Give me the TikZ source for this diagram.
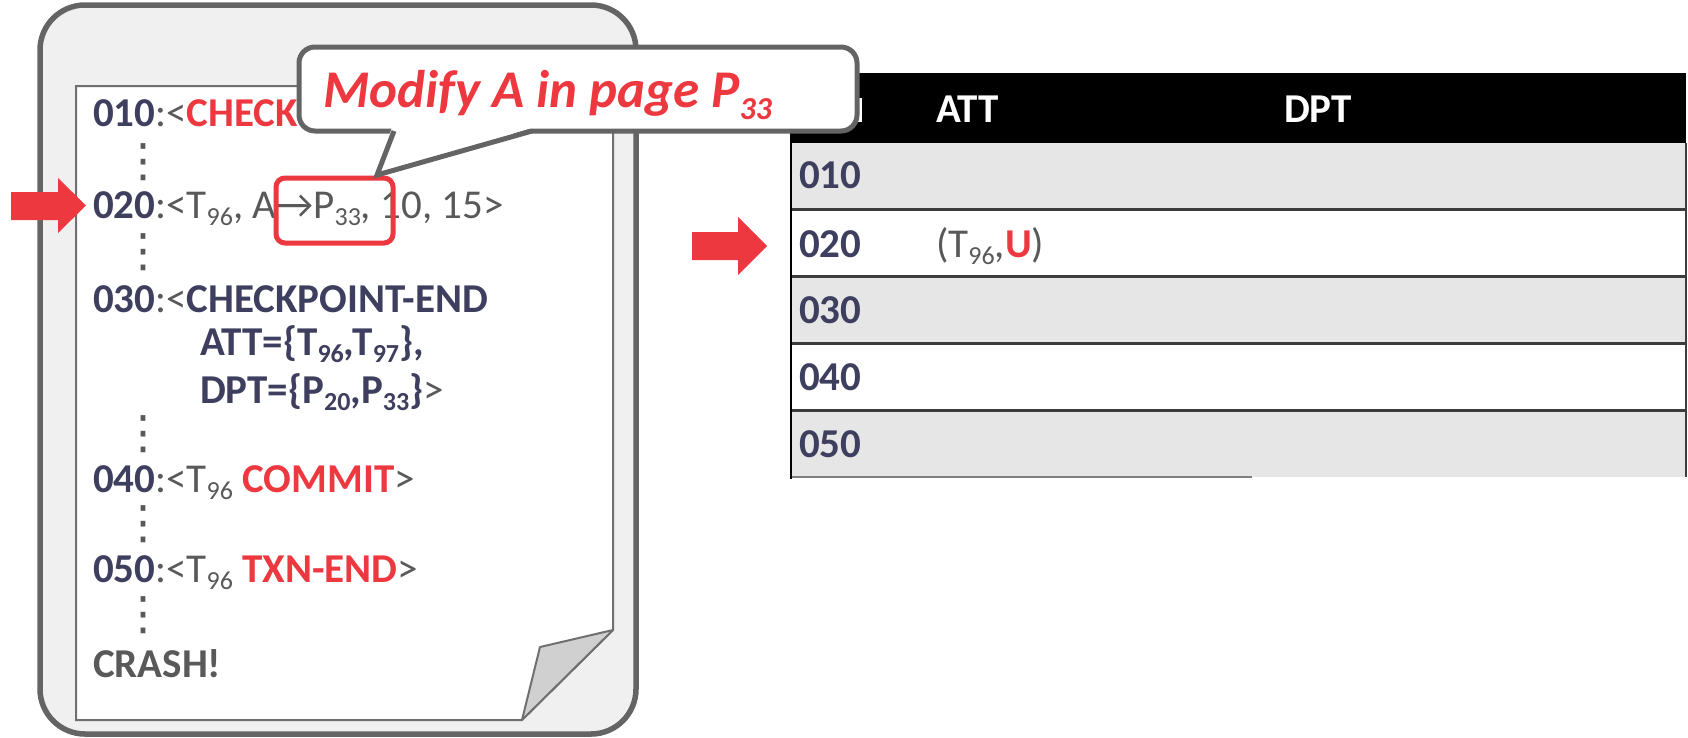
\documentclass[tikz,border=0pt]{standalone}
\usepackage{fontspec}
\setmainfont{Carlito}
\newfontfamily\dejavu{DejaVu Sans}
\definecolor{navy}{RGB}{62,62,94}
\definecolor{txtgray}{RGB}{89,89,89}
\definecolor{hot}{RGB}{237,56,64}
\definecolor{framegray}{RGB}{100,100,100}
\definecolor{pageline}{RGB}{112,112,112}
\definecolor{rowgray}{RGB}{230,230,230}
\definecolor{boxfill}{RGB}{240,240,240}
\definecolor{foldfill}{RGB}{208,208,208}
\definecolor{sepline}{RGB}{60,60,60}
\newcommand{\sbs}[1]{\raisebox{-0.18em}{\fontsize{26}{26}\selectfont #1}}
\newcommand{\bsbs}[1]{\raisebox{-0.24em}{\fontsize{32}{32}\selectfont #1}}
\begin{document}
\begin{tikzpicture}[x=1pt,y=-1pt,
  txt/.style={anchor=base west, inner sep=0pt, outer sep=0pt, text=txtgray, font=\fontsize{41}{49}\selectfont},
  dts/.style={inner sep=0pt, text=txtgray, font=\fontsize{46}{46}\selectfont\dejavu},
  hdr/.style={txt, text=white, font=\fontsize{41}{49}\selectfont\bfseries},
  rowlbl/.style={txt, text=navy, font=\fontsize{41}{49}\selectfont\bfseries},
  blockarrow/.style={fill=hot},
  sepstyle/.style={draw=sepline, line width=3},
]
\useasboundingbox (0,0) rectangle (1688,737);

% ---------- log file ----------
\draw[line width=5.5, draw=framegray, fill=boxfill, rounded corners=45] (40,5) rectangle (636,734);
\draw[line width=2, draw=pageline, fill=white] (76,86) -- (613,86) -- (613,630) -- (522,720) -- (76,720) -- cycle;
\draw[line width=2, draw=pageline, fill=foldfill, line join=round] (613,630) -- (540,647) -- (522,720) -- cycle;

\node[txt] (l010) at (93,126) {{\bfseries\color{navy}010}:<{\bfseries\color{hot}CHECK}};
\node[dts] (d1) at (143,162) {⋮};
\node[txt] (l020) at (93,218) {{\bfseries\color{navy}020}:<T\sbs{96}, A→P\sbs{33}, 10, 15>};
\node[dts] (d2) at (143,252) {⋮};
\node[txt] (l030) at (93,312) {{\bfseries\color{navy}030}:<{\bfseries\color{navy}CHECKPOINT-END}};
\node[txt] (latt) at (200,355) {{\bfseries\color{navy}ATT=\{T\sbs{96},T\sbs{97}\},}};
\node[txt] (ldpt) at (200,403) {{\bfseries\color{navy}DPT=\{P\sbs{20},P\sbs{33}\}}>};
\node[dts] (d3) at (143,434) {⋮};
\node[txt] (l040) at (93,492) {{\bfseries\color{navy}040}:<T\sbs{96} {\bfseries\color{hot}COMMIT}>};
\node[dts] (d4) at (143,524) {⋮};
\node[txt] (l050) at (93,582) {{\bfseries\color{navy}050}:<T\sbs{96} {\bfseries\color{hot}TXN-END}>};
\node[dts] (d5) at (143,615) {⋮};
\node[txt, font=\fontsize{41}{49}\selectfont\bfseries] (crash) at (93,677) {CRASH!};

\draw[draw=hot, line width=5, rounded corners=9] (276,178) rectangle (393,243);
\coordinate (hl) at (377,178);

\fill[blockarrow] (11,192) -- (58,192) -- (58,178) -- (86,205.5) -- (58,233) -- (58,220) -- (11,220) -- cycle;

% ---------- table ----------
\fill[black] (791,73) rectangle (1686,143);
\fill[rowgray] (791,143) rectangle (1686,209);
\fill[white] (791,209) rectangle (1686,276);
\fill[rowgray] (791,276) rectangle (1686,343);
\fill[white] (791,343) rectangle (1686,410);
\fill[rowgray] (791,410) rectangle (1686,477);
\draw[sepstyle] (791,209) -- (1686,209);
\draw[sepstyle] (791,276) -- (1686,276);
\draw[sepstyle] (791,343) -- (1686,343);
\draw[sepstyle] (791,410) -- (1686,410);
\draw[draw=gray, line width=2] (791,477) -- (1252,477);
\draw[black, line width=2.5] (791,73) -- (791,479);
\draw[draw=sepline, line width=1.5] (1686,143) -- (1686,477);

\node[hdr] (hatt) at (936,122) {ATT};
\node[hdr] (hdpt) at (1284,122) {DPT};
\node[rowlbl] (r010) at (799,188) {010};
\node[rowlbl] (r020) at (799,257) {020};
\node[rowlbl] (r030) at (799,323) {030};
\node[rowlbl] (r040) at (799,390) {040};
\node[rowlbl] (r050) at (799,457) {050};
\node[txt] (att020) at (936,257) {(T\sbs{96},{\bfseries\color{hot}U})};

\fill[blockarrow] (692,232) -- (738,232) -- (738,217) -- (767,246) -- (738,275) -- (738,260) -- (692,260) -- cycle;

% ---------- callout ----------
\fill[white] (858,98) rectangle (862,122);
\draw[line width=5, draw=framegray, fill=white, rounded corners=16] (299,47) rectangle (857,131);
\fill[white] (392,127) -- (377,175) -- (535,127) -- cycle;
\draw[line width=5, draw=framegray, line join=miter] (394,131) -- (377,175) -- (532,131);
\node[txt, text=hot, font=\fontsize{53}{60}\selectfont\bfseries\itshape] (callout) at (323,107) {Modify A in page P\bsbs{33}};
\end{tikzpicture}
\end{document}
